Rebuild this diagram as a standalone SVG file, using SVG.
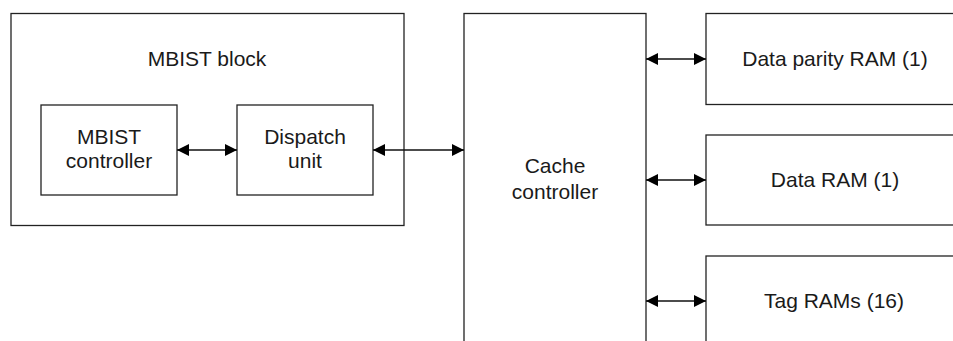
<svg xmlns="http://www.w3.org/2000/svg" width="953" height="341" viewBox="0 0 953 341">
<style>
.box{fill:#fff;stroke:#222;stroke-width:1.3}
.t{font-family:"Liberation Sans",Arial,sans-serif;font-size:21px;fill:#1a1a1a;text-anchor:middle}
.c{stroke:#111;stroke-width:1.3;fill:none}
</style>
<defs>
<marker id="ah" viewBox="0 0 12 12" refX="12" refY="6" markerWidth="12" markerHeight="12" markerUnits="userSpaceOnUse" orient="auto-start-reverse">
<path d="M0,0 L12,6 L0,12 Z" fill="#000"/>
</marker>
</defs>
<rect width="953" height="341" fill="#fff"/>
<g id="mbist-block">
<rect class="box" x="11" y="13.5" width="393" height="212"/>
<text class="t" x="207" y="66">MBIST block</text>
</g>
<g id="mbist-controller">
<rect class="box" x="41" y="105" width="136" height="90"/>
<text class="t" x="109" y="144">MBIST</text>
<text class="t" x="109" y="168">controller</text>
</g>
<g id="dispatch-unit">
<rect class="box" x="237" y="105" width="136" height="90"/>
<text class="t" x="305" y="144">Dispatch</text>
<text class="t" x="305" y="168">unit</text>
</g>
<g id="cache-controller">
<rect class="box" x="464" y="13.5" width="182" height="340"/>
<text class="t" x="555" y="173">Cache</text>
<text class="t" x="555" y="199">controller</text>
</g>
<g id="data-parity-ram">
<rect class="box" x="706" y="13.5" width="260" height="91"/>
<text class="t" x="835" y="66">Data parity RAM (1)</text>
</g>
<g id="data-ram">
<rect class="box" x="706" y="135" width="260" height="90"/>
<text class="t" x="835" y="187">Data RAM (1)</text>
</g>
<g id="tag-rams">
<rect class="box" x="706" y="256" width="260" height="100"/>
<text class="t" x="834" y="308">Tag RAMs (16)</text>
</g>
<g id="connectors">
<line class="c" x1="177" y1="150" x2="237" y2="150" marker-start="url(#ah)" marker-end="url(#ah)"/>
<line class="c" x1="373" y1="150" x2="464" y2="150" marker-start="url(#ah)" marker-end="url(#ah)"/>
<line class="c" x1="646" y1="59" x2="706" y2="59" marker-start="url(#ah)" marker-end="url(#ah)"/>
<line class="c" x1="646" y1="180" x2="706" y2="180" marker-start="url(#ah)" marker-end="url(#ah)"/>
<line class="c" x1="646" y1="301" x2="706" y2="301" marker-start="url(#ah)" marker-end="url(#ah)"/>
</g>
</svg>
